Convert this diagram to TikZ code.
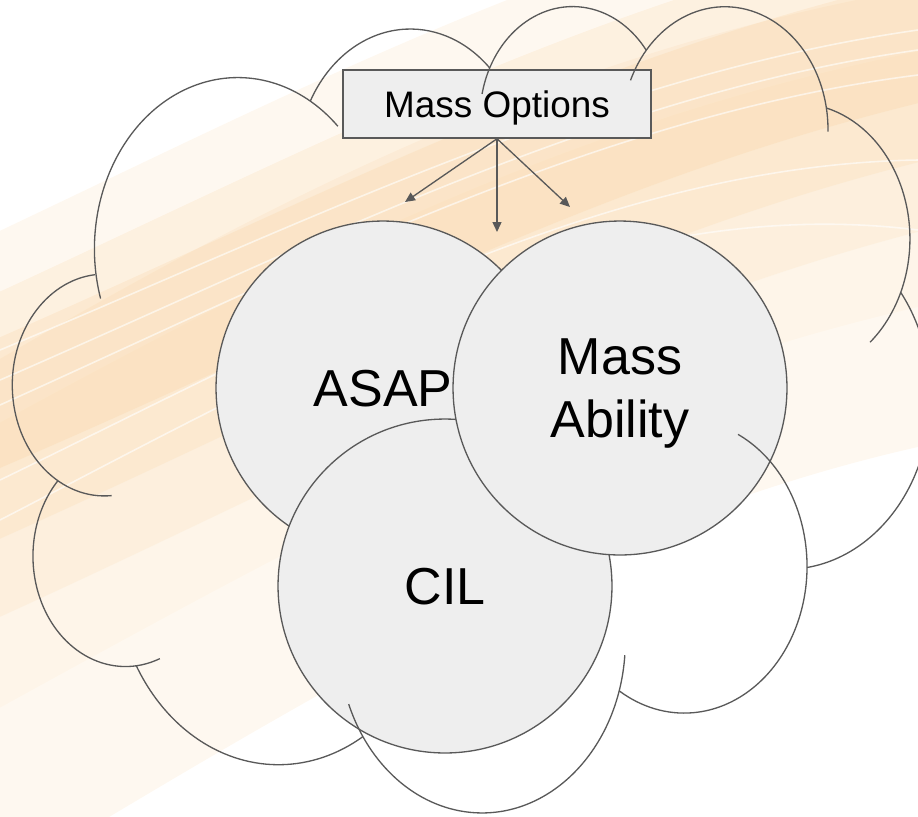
\documentclass[tikz,border=0pt]{standalone}
\usepackage{fontspec}
\setmainfont{Liberation Sans}
\usetikzlibrary{arrows.meta}

\definecolor{linegray}{HTML}{595959}
\definecolor{fillgray}{HTML}{EEEEEE}
\definecolor{peach}{HTML}{F9CF98}
\definecolor{cream}{HTML}{FDF0DE}

\tikzset{
	cloudline/.style={draw=linegray, line width=0.75pt},
	bubble/.style={circle, draw=linegray, line width=0.75pt, fill=fillgray,
		minimum size=6.68cm, inner sep=0pt, text depth=0pt, align=center,
		font=\fontsize{29.6}{35.8}\selectfont},
	optbox/.style={rectangle, draw=linegray, line width=0.85pt, fill=fillgray,
		minimum width=6.16cm, minimum height=1.36cm, inner sep=0pt,
		text depth=0pt, font=\fontsize{21}{25}\selectfont},
	pointer/.style={draw=linegray, line width=0.75pt,
		-{Triangle[length=0.2cm,width=0.18cm]}},
	stripe/.style={draw=white, line width=0.9pt, opacity=0.6}
}

\begin{document}
\begin{tikzpicture}[x=0.02cm,y=0.02cm]
	\useasboundingbox (0,0) rectangle (918,-816);
	\clip (0,0) rectangle (918,-816);
	
	% background waves
	\draw[cream, line width=9cm, opacity=0.45] (-100,-680) .. controls (300,-440) and (600,-260) .. (1018,-200);
	\draw[cream, line width=5cm, opacity=0.4] (-100,-620) .. controls (300,-400) and (600,-230) .. (1018,-160);
	\draw[peach, line width=7cm, opacity=0.14] (-100,-470) .. controls (300,-290) and (600,-110) .. (1018,-30);
	\draw[peach, line width=4.5cm, opacity=0.18] (-100,-460) .. controls (300,-285) and (600,-105) .. (1018,-25);
	\draw[peach, line width=2.4cm, opacity=0.22] (-100,-445) .. controls (300,-280) and (600,-100) .. (1018,-20);
	\draw[stripe] (0,-350) .. controls (300,-225) and (600,-75) .. (918,-30);
	\draw[stripe] (0,-380) .. controls (300,-250) and (600,-95) .. (918,-50);
	\draw[stripe] (0,-405) .. controls (300,-270) and (600,-115) .. (918,-75);
	\draw[stripe] (0,-480) .. controls (300,-335) and (600,-165) .. (918,-160);
	\draw[stripe] (0,-520) .. controls (300,-365) and (600,-190) .. (918,-230);
	
	% options box and the three circles
	\node[optbox] (opts) at (497,-104) {Mass Options};
	\node[bubble] (asap) at (383,-388) {ASAP};
	\node[bubble] (cil) at (445,-586) {CIL};
	\node[bubble] (ability) at (620,-388) {Mass\\Ability};
	
	\coordinate (tipL) at (405,-202);
	\coordinate (tipM) at (497,-232);
	\coordinate (tipR) at (570,-207);
	\draw[pointer] (opts.south) -- (tipL);
	\draw[pointer] (opts.south) -- (tipM);
	\draw[pointer] (opts.south) -- (tipR);
	
	% cloud outline
	\draw[cloudline] (237.8,-249.0) ++(196.807:143.35 and 171.46) arc[start angle=196.807, end angle=45.739, x radius=143.35, y radius=171.46];
	\draw[cloudline] (410.3,-164.6) ++(152.037:113.20 and 135.58) arc[start angle=152.037, end angle=45.447, x radius=113.20, y radius=135.58];
	\draw[cloudline] (572.6,-117.5) ++(167.726:92.66 and 110.92) arc[start angle=167.726, end angle=37.333, x radius=92.66, y radius=110.92];
	\draw[cloudline] (724.9,-129.8) ++(156.285:103.10 and 123.05) arc[start angle=156.285, end angle=-0.821, x radius=103.10, y radius=123.05];
	\draw[cloudline] (796.7,-238.9) ++(74.768:113.20 and 135.69) arc[start angle=74.768, end angle=-49.629, x radius=113.20, y radius=135.69];
	\draw[cloudline] (786.7,-397.2) ++(37.534:143.81 and 172.02) arc[start angle=37.534, end angle=-81.862, x radius=143.81, y radius=172.02];
	\draw[cloudline] (684.2,-566.3) ++(64.026:122.80 and 146.78) arc[start angle=64.026, end angle=-121.978, x radius=122.80, y radius=146.78];
	\draw[cloudline] (482.0,-641.0) ++(-4.738:143.32 and 171.93) arc[start angle=-4.738, end angle=-158.473, x radius=143.32, y radius=171.93];
	\draw[cloudline] (278.5,-568.0) ++(-58.983:163.87 and 196.71) arc[start angle=-58.983, end angle=-150.189, x radius=163.87, y radius=196.71];
	\draw[cloudline] (125.5,-556.1) ++(-68.234:92.55 and 110.41) arc[start angle=-68.234, end angle=-223.108, x radius=92.55, y radius=110.41];
	\draw[cloudline] (104.5,-385.0) ++(-85.543:92.23 and 110.92) arc[start angle=-85.543, end angle=-264.112, x radius=92.23, y radius=110.92];
\end{tikzpicture}
\end{document}
